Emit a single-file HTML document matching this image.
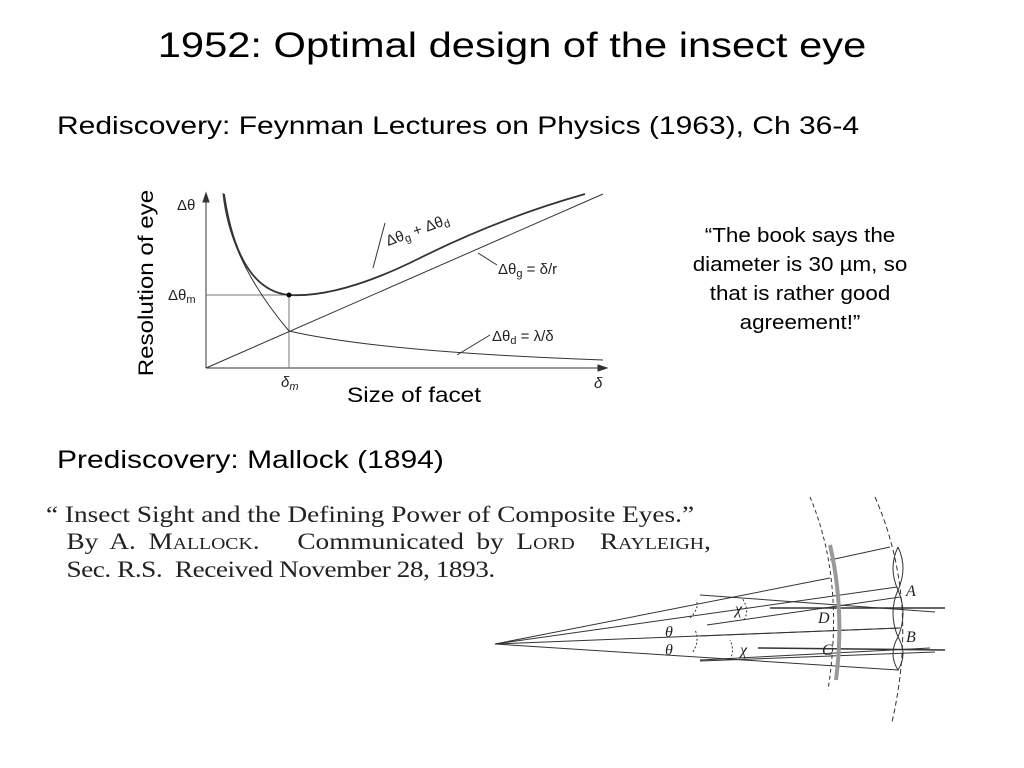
<!DOCTYPE html>
<html><head><meta charset="utf-8"><style>
html,body{margin:0;padding:0;background:#fff;}
body{width:1024px;height:768px;position:relative;overflow:hidden;font-family:"Liberation Sans",sans-serif;color:#000;}
.t{position:absolute;white-space:nowrap;}
.serif{font-family:"Liberation Serif",serif;color:#222;}
</style></head><body>
<div class="t" style="left:0;width:1024px;text-align:center;top:26px;font-size:35px;transform:scaleX(1.19);transform-origin:512px 0;">1952: Optimal design of the insect eye</div>
<div class="t" style="left:57px;top:112px;font-size:25px;transform:scaleX(1.2);transform-origin:0 0;">Rediscovery: Feynman Lectures on Physics (1963), Ch 36-4</div>
<div class="t" style="left:57px;top:446px;font-size:25px;transform:scaleX(1.2);transform-origin:0 0;">Prediscovery: Mallock (1894)</div>
<div class="t" style="left:650px;width:300px;text-align:center;top:222px;font-size:20px;line-height:29px;transform:scaleX(1.12);transform-origin:150px 0;">“The book says the<br>diameter is 30 µm, so<br>that is rather good<br>agreement!”</div>
<div class="t serif" style="left:46px;top:502px;font-size:23.5px;line-height:27px;transform:scaleX(1.16);transform-origin:0 0;">“ Insect Sight and the Defining Power of Composite Eyes.”<br>&nbsp;&nbsp;&nbsp;<span style="word-spacing:5px">By A. M<span style="font-size:17px">ALLOCK</span>.&nbsp;&nbsp;&nbsp;Communicated by L<span style="font-size:17px">ORD</span>&nbsp;&nbsp;R<span style="font-size:17px">AYLEIGH</span>,</span><br>&nbsp;&nbsp;&nbsp;<span style="letter-spacing:-0.4px">Sec. R.S.&nbsp;&nbsp;Received November 28, 1893.</span></div>
<svg width="1024" height="768" style="position:absolute;left:0;top:0" xmlns="http://www.w3.org/2000/svg">
<g stroke="#333" fill="none" stroke-width="1">
<line x1="206" y1="368" x2="206" y2="196"/>
<polygon points="206,193 203,202 209,202" fill="#333"/>
<line x1="206" y1="368" x2="603" y2="368"/>
<polygon points="607,368 598,365 598,371" fill="#333"/>
<line x1="206" y1="295" x2="289" y2="295" stroke="#777"/>
<line x1="289" y1="295" x2="289" y2="368" stroke="#777"/>
<line x1="206" y1="368" x2="603" y2="194"/>
<path d="M223,193 Q229,260 289,331 Q380,352 603,360"/>
<path d="M224,194 Q238,290 289,295 Q340,298 420,258 T585,194" stroke-width="1.8"/>
<line x1="385" y1="223" x2="373" y2="268"/>
<line x1="478" y1="253" x2="497" y2="265"/>
<line x1="490" y1="335" x2="457" y2="355"/>
</g>
<circle cx="289" cy="295" r="2.5" fill="#000"/>
<g font-family="Liberation Sans,sans-serif" font-size="15" fill="#222">
<text x="177" y="210">Δθ</text>
<text x="168" y="300">Δθ<tspan font-size="11" dy="3">m</tspan></text>
<text x="281" y="387" font-style="italic">δ<tspan font-size="11" dy="3">m</tspan></text>
<text x="594" y="388" font-style="italic">δ</text>
<text x="388" y="246" transform="rotate(-20 388 246)">Δθ<tspan font-size="11" dy="3">g</tspan><tspan dy="-3"> + Δθ</tspan><tspan font-size="11" dy="3">d</tspan></text>
<text x="498" y="274">Δθ<tspan font-size="11" dy="3">g</tspan><tspan dy="-3"> = δ/r</tspan></text>
<text x="492" y="341">Δθ<tspan font-size="11" dy="3">d</tspan><tspan dy="-3"> = λ/δ</tspan></text>
</g>
<text x="146" y="275" font-size="21" transform="rotate(-90 153 275) translate(153 0) scale(1.15 1) translate(-153 0)" text-anchor="middle" font-family="Liberation Sans,sans-serif">Resolution of eye</text>
<text x="414" y="402" font-size="21" text-anchor="middle" font-family="Liberation Sans,sans-serif" transform="translate(414 0) scale(1.16 1) translate(-414 0)">Size of facet</text>
<g stroke="#333" fill="none" stroke-width="1">
<line x1="495" y1="644" x2="897" y2="587"/>
<line x1="495" y1="644" x2="900" y2="628"/>
<line x1="495" y1="644" x2="898" y2="670"/>
<line x1="495" y1="644" x2="830" y2="578"/>
<line x1="700" y1="595" x2="935" y2="612"/>
<line x1="707" y1="625" x2="900" y2="597"/>
<line x1="700" y1="661" x2="935" y2="652"/>
<line x1="700" y1="660" x2="930" y2="648"/>
<line x1="770" y1="608" x2="945" y2="608" stroke-width="1.5"/>
<line x1="758" y1="648" x2="945" y2="650" stroke-width="1.5"/>
<line x1="700" y1="636" x2="900" y2="628"/>
<line x1="830" y1="560" x2="890" y2="547"/>
<path d="M810,497 Q845,580 828,690" stroke-dasharray="4,3"/>
<path d="M875,497 Q920,600 892,722" stroke-dasharray="5,3"/>
<path d="M690,618 Q700,608 696,600" stroke-dasharray="2,2"/>
<path d="M693,652 Q700,640 695,630" stroke-dasharray="2,2"/>
<path d="M744,620 Q750,610 742,598" stroke-dasharray="2,2"/>
<path d="M730,660 Q735,650 730,640" stroke-dasharray="2,2"/>
<path d="M898,547 Q888,568 898,590 Q908,568 898,547"/>
<path d="M898,590 Q888,613 898,637 Q908,613 898,590"/>
<path d="M898,637 Q888,654 898,670 Q908,654 898,637"/>
</g>
<path d="M830,545 Q845,610 836,680" stroke="#999" stroke-width="4" fill="none"/>
<g font-family="Liberation Serif,serif" font-style="italic" font-size="16" fill="#222">
<text x="906" y="596">A</text><text x="906" y="642">B</text>
<text x="818" y="623">D</text><text x="822" y="655">C</text>
<text x="665" y="637">θ</text><text x="665" y="655">θ</text>
<text x="735" y="614">χ</text><text x="740" y="655">χ</text>
</g>
</svg>
</body></html>
